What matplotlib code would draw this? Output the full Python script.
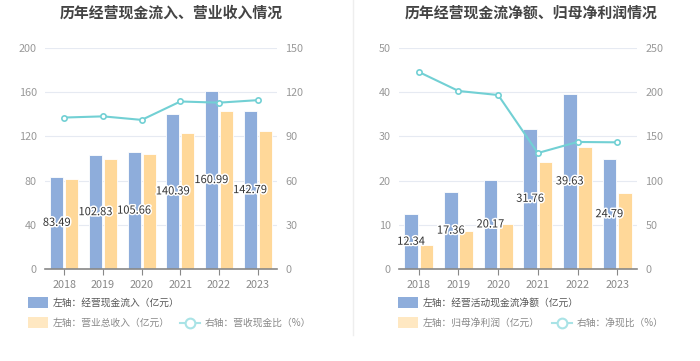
import matplotlib
matplotlib.use('Agg')
from matplotlib import pyplot as plt
from matplotlib.patches import Rectangle
from matplotlib.lines import Line2D
import matplotlib.patheffects as pe
import numpy as np

plt.rcParams['font.family'] = ['Noto Sans CJK SC', 'DejaVu Sans']

years = ['2018', '2019', '2020', '2021', '2022', '2023']

# 左图：经营现金流入、营业总收入、营收现金比
inflow = [83.49, 102.83, 105.66, 140.39, 160.99, 142.79]
revenue = [81.2, 99.3, 104.4, 123.5, 142.6, 124.6]
inflow_ratio = [102.8, 103.6, 101.2, 113.7, 112.9, 114.6]

# 右图：经营活动现金流净额、归母净利润、净现比
net_cf = [12.34, 17.36, 20.17, 31.76, 39.63, 24.79]
profit = [5.54, 8.62, 10.25, 24.2, 27.6, 17.3]
net_ratio = [222.9, 201.4, 196.8, 131.2, 143.7, 143.3]

BLUE = '#8EADDB'
ORANGE = '#FFD899'
TEAL = '#72D0D4'
W, H = 700, 361


def px(x0, y0, w, h):
    return [x0 / W, 1 - (y0 + h) / H, w / W, h / H]


def panel(fig, rect, title, title_x, bars1, bars2, line, ylim, y2lim, legend_x, names):
    ax = fig.add_axes(rect)
    x = np.arange(len(years))
    bw = 0.34
    ax.bar(x - 0.195, bars1, bw, color=BLUE, edgecolor='white', linewidth=0.6, zorder=2)
    ax.bar(x + 0.195, bars2, bw, color=ORANGE, edgecolor='white', linewidth=0.6, zorder=2)
    for xi, v in zip(x, bars1):
        ax.text(xi - 0.195, v / 2, f'{v:.2f}', ha='center', va='center', fontsize=8,
                color='#333333', zorder=5,
                path_effects=[pe.withStroke(linewidth=2.2, foreground='white')])
    ax.set_xlim(-0.5, len(years) - 0.5)
    ax.set_ylim(0, ylim[-1])
    ax.set_yticks(ylim)
    ax.set_xticks(x)
    ax.set_xticklabels(years)
    ax.grid(axis='y', color='#E6EAF2', linewidth=0.8, zorder=0)
    for s in ['top', 'right', 'left']:
        ax.spines[s].set_visible(False)
    ax.spines['bottom'].set_color('#888888')
    ax.spines['bottom'].set_linewidth(1.2)
    ax.tick_params(axis='y', length=0, labelsize=7.8, labelcolor='#999999', pad=6)
    ax.tick_params(axis='x', length=4, color='#888888', labelsize=7.8, labelcolor='#888888', pad=4)

    ax2 = ax.twinx()
    ax2.plot(x, line, color=TEAL, linewidth=1.5, marker='o', markersize=3.8,
             markerfacecolor='white', markeredgecolor=TEAL, markeredgewidth=1.2, zorder=4)
    ax2.set_ylim(0, y2lim[-1])
    ax2.set_yticks(y2lim)
    for s in ['top', 'right', 'left', 'bottom']:
        ax2.spines[s].set_visible(False)
    ax2.tick_params(axis='y', length=0, labelsize=7.8, labelcolor='#999999', pad=6)

    fig.text(title_x / W, 1 - 13 / H, title, ha='center', va='center', fontsize=10.7,
             fontweight='bold', color='#444444')

    # legend
    lx = legend_x
    fig.patches.append(Rectangle((lx / W, 1 - 308 / H), 20 / W, 11 / H, transform=fig.transFigure,
                                 facecolor=BLUE, edgecolor='none'))
    fig.text((lx + 25) / W, 1 - 302.5 / H, names[0], va='center', fontsize=7, color='#555555')
    fig.patches.append(Rectangle((lx / W, 1 - 328 / H), 20 / W, 11 / H, transform=fig.transFigure,
                                 facecolor='#FFE8C2', edgecolor='none'))
    fig.text((lx + 25) / W, 1 - 322.5 / H, names[1], va='center', fontsize=7, color='#888888')
    ix = lx + names[3]
    fig.add_artist(Line2D([ix / W, (ix + 20) / W], [1 - 322.5 / H] * 2, color='#A9E3E6',
                          linewidth=1.5, transform=fig.transFigure))
    fig.add_artist(Line2D([(ix + 10) / W], [1 - 322.5 / H], marker='o', markersize=7,
                          markerfacecolor='white', markeredgecolor='#A9E3E6', markeredgewidth=1.5,
                          transform=fig.transFigure))
    fig.text((ix + 25) / W, 1 - 322.5 / H, names[2], va='center', fontsize=7, color='#888888')


fig = plt.figure(figsize=(7, 3.61), dpi=100)

panel(fig, px(45, 48, 232, 221), '历年经营现金流入、营业收入情况', 171,
      inflow, revenue, inflow_ratio, [0, 40, 80, 120, 160, 200], [0, 30, 60, 90, 120, 150], 28,
      ['左轴：经营现金流入（亿元）', '左轴：营业总收入（亿元）', '右轴：营收现金比（%）', 152])
panel(fig, px(399, 48, 238, 221), '历年经营现金流净额、归母净利润情况', 531,
      net_cf, profit, net_ratio, [0, 10, 20, 30, 40, 50], [0, 50, 100, 150, 200, 250], 398,
      ['左轴：经营活动现金流净额（亿元）', '左轴：归母净利润（亿元）', '右轴：净现比（%）', 154])

fig.add_artist(Line2D([352.5 / W] * 2, [1 - 335 / H, 1.0], color='#EEEEEE', linewidth=1,
                      transform=fig.transFigure))

fig.savefig('out.png', dpi=100, facecolor='white')
